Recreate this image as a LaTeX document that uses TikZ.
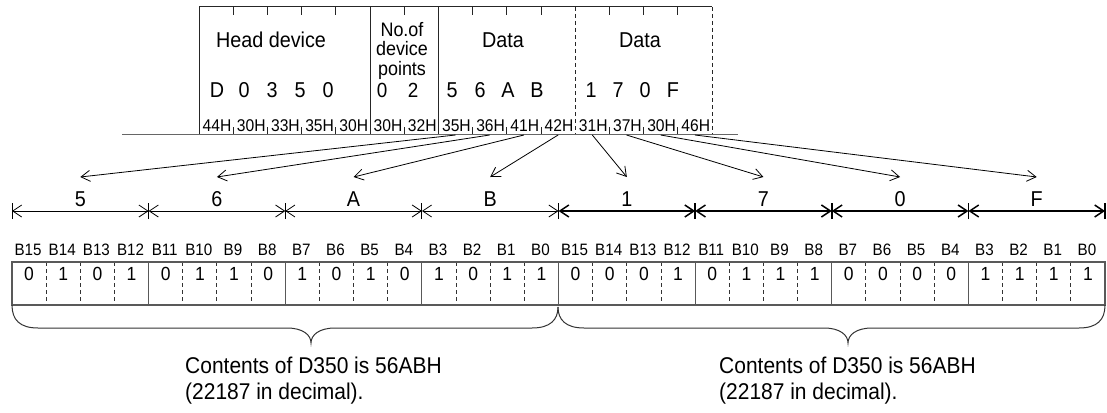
\documentclass[tikz,border=0pt]{standalone}
\usepackage{fontspec}
\setmainfont{Liberation Sans}[FakeStretch=0.92]
\usetikzlibrary{arrows.meta}
\newcommand\myfs[1]{\fontsize{#1}{#1}\selectfont}
\begin{document}
\begin{tikzpicture}[x=1pt,y=-1pt,
  frame/.style={line width=1pt, draw=black!85},
  dframe/.style={frame, dash pattern=on 4pt off 3pt},
  basel/.style={line width=1.8pt, draw=black!60},
  txt/.style={inner sep=0pt, anchor=base},
  cellline/.style={line width=1.2pt, draw=black!65},
  celldash/.style={line width=0.9pt, draw=black!80, dash pattern=on 4pt off 3pt},
  thindim/.style={line width=0.8pt, {Straight Barb[length=9pt,width=12pt]}-{Straight Barb[length=9pt,width=12pt]}},
  thickdim/.style={line width=1.5pt, {Straight Barb[length=9pt,width=12pt]}-{Straight Barb[length=9pt,width=12pt]}},
  darrow/.style={line width=0.8pt, -{Straight Barb[length=9pt,width=11pt]}},
  brace/.style={line width=1pt, draw=black!80}
]
\useasboundingbox (0,0) rectangle (1107,412);

% ---------- top frame ----------
\draw[frame] (199,7) -- (712,7);
\draw[frame] (199,7) -- (199,134) (370,7) -- (370,134) (438.4,7) -- (438.4,134);
\draw[dframe] (575.2,7) -- (575.2,134) (712,7) -- (712,134);
\foreach \i in {1,2,3,4,6,8,9,10,12,13,14}{
  \draw[frame] ({199+34.2*\i},7) -- ({199+34.2*\i},15);
  \draw[frame] ({199+34.2*\i},127) -- ({199+34.2*\i},134);
}
\draw[basel] (122,134.5) -- (738,134.5);

\foreach \lab [count=\i from 0] in {44H,30H,33H,35H,30H,30H,32H,35H,36H,41H,42H,31H,37H,30H,46H}{
  \node[txt] (h\i) at ({199+34.2*\i+18},131) {\myfs{17}\lab};
}

\node[txt] (hd) at (271,48) {\myfs{21.5}Head device};
\node[txt] (da1) at (503,48) {\myfs{21.5}Data};
\node[txt] (da2) at (640,48) {\myfs{21.5}Data};
\node[txt] (np1) at (402,37) {\myfs{19.5}No.of};
\node[txt] (np2) at (402,56) {\myfs{19.5}device};
\node[txt] (np3) at (402,75) {\myfs{19.5}points};
\node[txt] (np4) at (382,97) {\myfs{20.5}0};
\node[txt] (np5) at (413,97) {\myfs{20.5}2};

\foreach \ch/\x [count=\i] in {D/217,0/244,3/272,5/300,0/328,5/452,6/480,A/508,B/537,1/591,7/618,0/645,F/673}{
  \node[txt] (c\i) at (\x,97) {\myfs{21.5}\ch};
}

% ---------- arrows to digits ----------
\foreach \k in {0,...,7}{
  \coordinate (s\k) at ({199+34.2*(\k+7.5)},135);
  \coordinate (t\k) at ({12+136.625*(\k+0.5)},177);
  \draw[darrow] (s\k) -- (t\k);
}

% ---------- dimension line ----------
\foreach \k in {0,...,8}{
  \coordinate (d\k) at ({12+136.625*\k},211);
}
\foreach \k [evaluate=\k as \kn using int(\k+1)] in {0,...,3}{
  \draw[thindim] (d\k) -- (d\kn);
  \draw[line width=0.8pt] ([yshift=-8pt]d\k) -- ([yshift=8pt]d\k);
}
\foreach \k [evaluate=\k as \kn using int(\k+1)] in {4,...,7}{
  \draw[thickdim] (d\k) -- (d\kn);
  \draw[line width=1.5pt] ([yshift=-8pt]d\k) -- ([yshift=8pt]d\k);
}
\draw[line width=1.5pt] ([yshift=-8pt]d8) -- ([yshift=8pt]d8);

\foreach \ch [count=\i from 0] in {5,6,A,B,1,7,0,F}{
  \node[txt] (g\i) at ({12+136.625*(\i+0.5)},206) {\myfs{21.5}\ch};
}

% ---------- bit row ----------
\def\cw{34.156}
\foreach \j in {1,...,31}{
  \pgfmathtruncatemacro\r{mod(\j,4)}
  \ifnum\r=0
    \draw[cellline] ({12+\cw*\j},262) -- ({12+\cw*\j},305);
  \else
    \draw[celldash] ({12+\cw*\j},262) -- ({12+\cw*\j},305);
  \fi
}
\draw[cellline] (12,262) rectangle (1105,305);

\foreach \b [count=\j from 0] in {0,1,0,1,0,1,1,0,1,0,1,0,1,0,1,1,0,0,0,1,0,1,1,1,0,0,0,0,1,1,1,1}{
  \node[txt] (v\j) at ({12+\cw*(\j+0.5)},280) {\myfs{19}\b};
}
\foreach \lab [count=\j from 0] in {B15,B14,B13,B12,B11,B10,B9,B8,B7,B6,B5,B4,B3,B2,B1,B0,B15,B14,B13,B12,B11,B10,B9,B8,B7,B6,B5,B4,B3,B2,B1,B0}{
  \node[txt] (l\j) at ({12+\cw*(\j+0.5)-1},255) {\myfs{16.5}\lab};
}

% ---------- braces ----------
\draw[brace] (12,305) .. controls (12,320) and (20,328) .. (38,328) -- (287,328)
  .. controls (303,328) and (311,335) .. (311,343)
  .. controls (311,335) and (319,328) .. (335,328) -- (532,328)
  .. controls (550,328) and (558,320) .. (558,307);
\draw[brace] (558,307) .. controls (558,320) and (566,328) .. (584,328) -- (824,328)
  .. controls (840,328) and (848,335) .. (848,343)
  .. controls (848,335) and (856,328) .. (872,328) -- (1079,328)
  .. controls (1097,328) and (1105,320) .. (1105,305);

\node[txt, anchor=base west] (ct1) at (185,373) {\myfs{22.8}Contents of D350 is 56ABH};
\node[txt, anchor=base west] (ct2) at (185,399) {\myfs{22.8}(22187 in decimal).};
\node[txt, anchor=base west] (ct3) at (719,373) {\myfs{22.8}Contents of D350 is 56ABH};
\node[txt, anchor=base west] (ct4) at (719,399) {\myfs{22.8}(22187 in decimal).};
\end{tikzpicture}
\end{document}
